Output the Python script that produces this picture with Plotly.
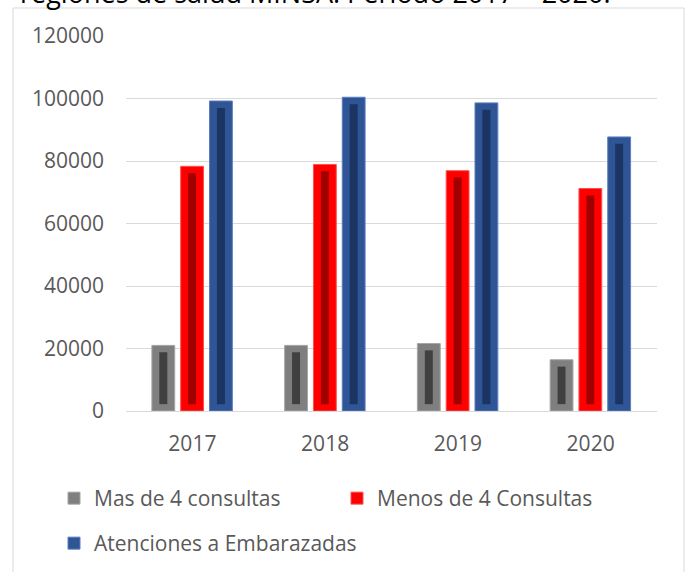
import plotly.graph_objects as go

years = ["2017", "2018", "2019", "2020"]
mas_de_4 = [21000, 21000, 21600, 16400]
menos_de_4 = [78300, 78900, 76900, 71200]
atenciones = [99200, 100400, 98600, 87700]
y_ticks = [0, 20000, 40000, 60000, 80000, 100000, 120000]

names = ["Mas de 4 consultas", "Menos de 4 Consultas", "Atenciones a Embarazadas"]
series = [mas_de_4, menos_de_4, atenciones]
outer_colors = ["#7f7f7f", "#ff0000", "#2f5597"]
line_colors = ["#a6a6a6", "#ff5050", "#5b7fbf"]
inner_colors = ["#404040", "#a00000", "#1c3461"]
offsets = [-0.305, -0.088, 0.129]
bar_w = 0.172
inner_w = 0.06
pad = 2200

W, H = 689, 572
L, R, T, B = 126, 32, 36, 161
pw, ph = W - L - R, H - T - B

def px_x(x):
    return (x - L) / pw

def px_y(y):
    return (H - B - y) / ph

fig = go.Figure()
for i, (nm, vals) in enumerate(zip(names, series)):
    fig.add_trace(go.Bar(
        x=years, y=vals, name=nm, offset=offsets[i], width=bar_w,
        marker=dict(color=outer_colors[i], line=dict(color=line_colors[i], width=1)),
        legend="legend" if i < 2 else "legend2",
        hoverinfo="x+y+name",
    ))
    fig.add_trace(go.Bar(
        x=years, y=[v - 2 * pad for v in vals], base=[pad] * len(vals),
        offset=offsets[i] + (bar_w - inner_w) / 2, width=inner_w,
        marker=dict(color=inner_colors[i], line=dict(width=0)),
        showlegend=False, hoverinfo="skip",
    ))

font_family = "Open Sans"
fig.update_layout(
    width=W, height=H,
    margin=dict(l=L, r=R, t=T, b=B, autoexpand=False),
    paper_bgcolor="white", plot_bgcolor="white",
    barmode="overlay",
    font=dict(family=font_family, size=21, color="#595959"),
    xaxis=dict(
        type="category", showgrid=False, showline=True, linecolor="#d9d9d9",
        linewidth=1, ticks="", tickfont=dict(size=21, color="#595959"),
        ticklabelstandoff=14, zeroline=False, automargin=False,
    ),
    yaxis=dict(
        range=[0, 120000], tickvals=y_ticks, ticktext=[str(v) for v in y_ticks],
        showgrid=True, gridcolor="#d9d9d9", gridwidth=1, zeroline=False,
        showline=False, ticks="", tickfont=dict(size=21, color="#595959"),
        ticklabelstandoff=21, automargin=False,
    ),
    legend=dict(
        orientation="h", x=px_x(54), y=px_y(478), xanchor="left", yanchor="top",
        entrywidth=238, font=dict(size=21, color="#595959"), bgcolor="rgba(0,0,0,0)",
    ),
    legend2=dict(
        orientation="h", x=px_x(54), y=px_y(523), xanchor="left", yanchor="top",
        font=dict(size=21, color="#595959"), bgcolor="rgba(0,0,0,0)",
    ),
    showlegend=True,
    shapes=[dict(
        type="rect", xref="paper", yref="paper",
        x0=px_x(13), x1=px_x(684), y0=px_y(8), y1=px_y(600),
        line=dict(color="#d9d9d9", width=1), fillcolor="rgba(0,0,0,0)", layer="below",
    )],
    annotations=[dict(
        text="regiones de salud MINSA. Periodo 2017 – 2020.",
        xref="paper", yref="paper", x=px_x(18), y=px_y(13),
        xanchor="left", yanchor="bottom", showarrow=False,
        font=dict(family=font_family, size=27, color="#000000"),
    )],
)

fig.write_html(
    "out.html",
    config={"displayModeBar": False},
    post_script="document.body.style.margin='0';document.body.style.padding='0';",
)
